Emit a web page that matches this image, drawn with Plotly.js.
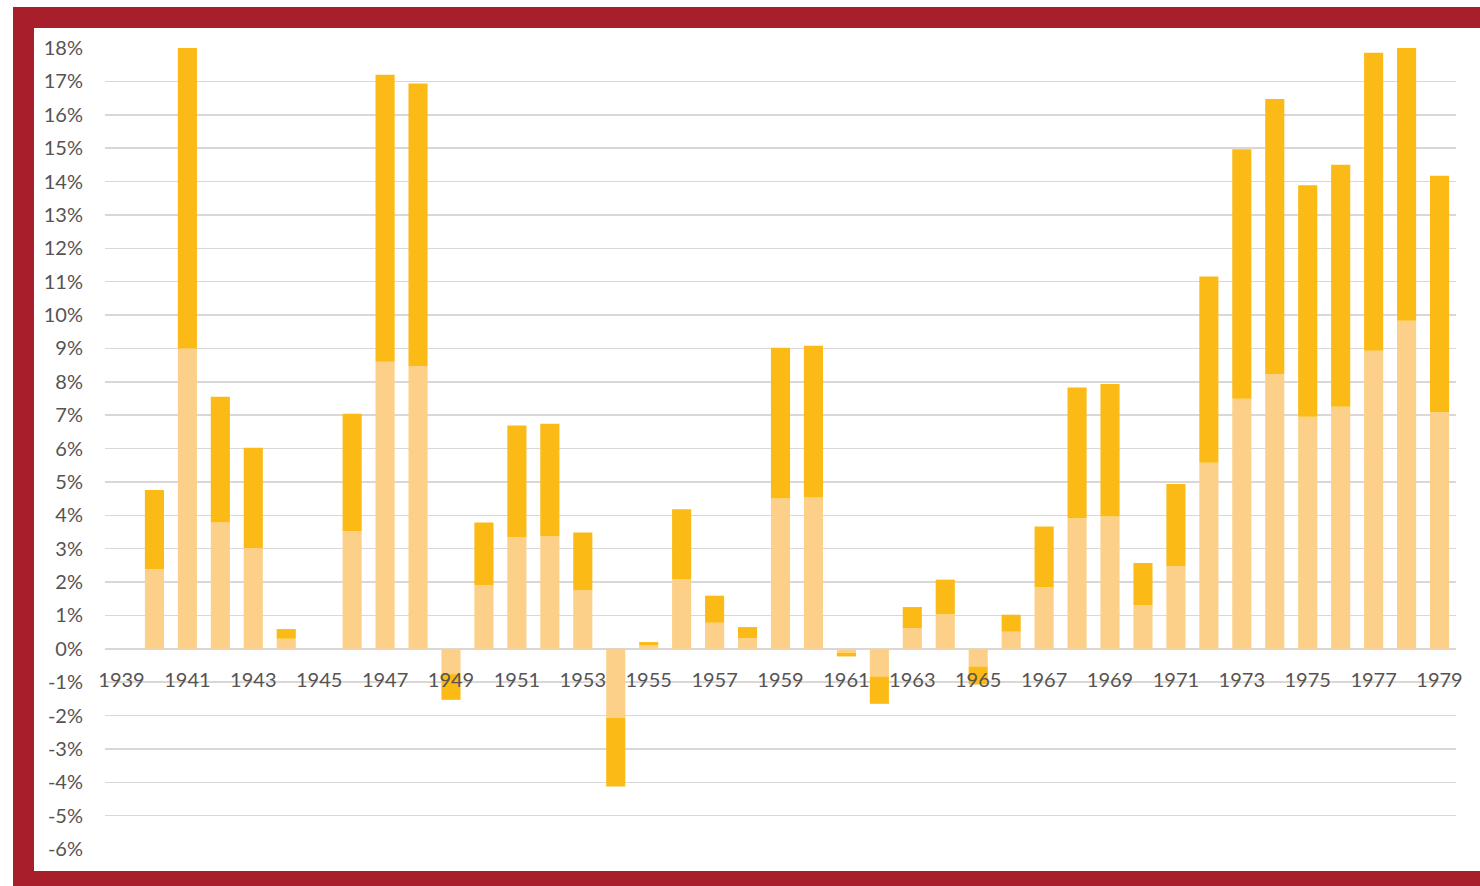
<!DOCTYPE html>
<html>
<head>
<meta charset="utf-8">
<script src="https://cdn.plot.ly/plotly-3.0.1.min.js"></script>
<style>
  html, body { margin: 0; padding: 0; background: #ffffff; width: 1480px; height: 886px; overflow: hidden; }
  #frame { position: absolute; left: 13px; top: 7px; width: 1467px; height: 879px; background: #A91E2B; }
  #chart { position: absolute; left: 21px; top: 21px; width: 1446px; height: 843px; background: #ffffff; }
</style>
</head>
<body>
<div id="frame"><div id="chart"></div></div>
<script>
// Years (categories)
const years = [1939,1940,1941,1942,1943,1944,1945,1946,1947,1948,1949,1950,1951,1952,1953,1954,1955,1956,1957,1958,1959,
               1960,1961,1962,1963,1964,1965,1966,1967,1968,1969,1970,1971,1972,1973,1974,1975,1976,1977,1978,1979];
// Lower (lighter) segment, in percent
const lowerPart = [0,2.38,9.0,3.78,3.02,0.30,0,3.52,8.60,8.47,-0.76,1.90,3.34,3.37,1.75,-2.07,0.10,2.09,0.78,0.32,4.50,
                   4.53,-0.12,-0.83,0.62,1.03,-0.53,0.51,1.84,3.91,3.96,1.30,2.47,5.57,7.49,8.23,6.95,7.25,8.93,9.83,7.09];
// Upper (darker) segment, in percent
const upperPart = [0,2.38,9.0,3.77,3.00,0.29,0,3.52,8.60,8.47,-0.77,1.88,3.35,3.37,1.73,-2.06,0.10,2.09,0.81,0.33,4.52,
                   4.55,-0.11,-0.82,0.63,1.04,-0.54,0.51,1.82,3.92,3.97,1.27,2.47,5.58,7.48,8.24,6.94,7.25,8.93,9.83,7.08];
// Axis tick labels
const xTickVals = [1939,1941,1943,1945,1947,1949,1951,1953,1955,1957,1959,1961,1963,1965,1967,1969,1971,1973,1975,1977,1979];
const xTickText = xTickVals.map(String);
const yTickVals = [18,17,16,15,14,13,12,11,10,9,8,7,6,5,4,3,2,1,0,-1,-2,-3,-4,-5,-6];
const yTickText = ["18%","17%","16%","15%","14%","13%","12%","11%","10%","9%","8%","7%","6%","5%","4%","3%","2%","1%","0%","-1%","-2%","-3%","-4%","-5%","-6%"];

const fontFam = 'Lato, "Open Sans", sans-serif';
const txtColor = '#575352';

const traces = [
  { type: 'bar', x: years, y: lowerPart, marker: { color: '#FCD088' }, hoverinfo: 'x+y', name: 'lower' },
  { type: 'bar', x: years, y: upperPart, marker: { color: '#FBBA16' }, hoverinfo: 'x+y', name: 'upper' }
];

const layout = {
  width: 1446, height: 843,
  margin: { l: 71, r: 24, t: 20, b: 22, pad: 0 },
  paper_bgcolor: '#ffffff', plot_bgcolor: '#ffffff',
  barmode: 'relative', bargap: 0.42,
  showlegend: false,
  font: { family: fontFam, color: txtColor, size: 20 },
  xaxis: {
    range: [1938.5, 1979.5],
    tickmode: 'array', tickvals: xTickVals, ticktext: xTickText,
    anchor: 'free', position: 0.25,
    showgrid: false, zeroline: false, showline: false,
    ticks: 'outside', ticklen: 13, tickcolor: 'rgba(0,0,0,0)',
    tickfont: { family: fontFam, size: 20, color: txtColor },
    fixedrange: true
  },
  yaxis: {
    range: [-6, 18],
    tickmode: 'array', tickvals: yTickVals, ticktext: yTickText,
    showgrid: true, gridcolor: '#dbd7d7', gridwidth: 1.5,
    zeroline: true, zerolinecolor: '#dbd7d7', zerolinewidth: 1.5,
    showline: false,
    ticks: 'outside', ticklen: 17, tickcolor: 'rgba(0,0,0,0)',
    tickfont: { family: fontFam, size: 20, color: txtColor },
    fixedrange: true
  }
};

Plotly.newPlot('chart', traces, layout, { displayModeBar: false, staticPlot: true });
</script>
</body>
</html>
